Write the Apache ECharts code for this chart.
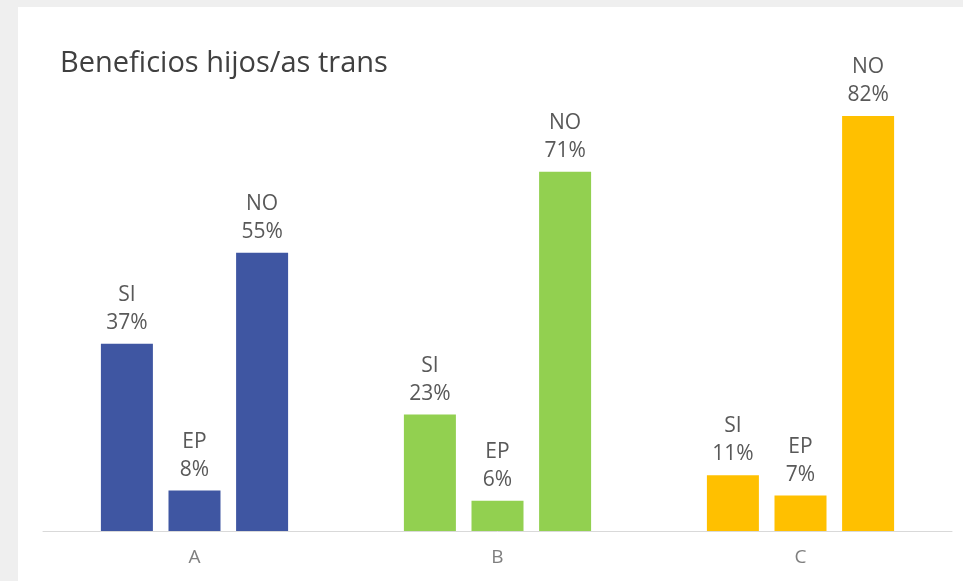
<!DOCTYPE html>
<html>
<head>
<meta charset="utf-8">
<script src="https://cdn.jsdelivr.net/npm/echarts@6/dist/echarts.min.js"></script>
<style>
  html, body { margin: 0; padding: 0; background: #efefef; }
  #chart { position: absolute; left: 18px; top: 7px; width: 945px; height: 574px; background: #ffffff; }
</style>
</head>
<body>
<div id="chart"></div>
<script>
// 데이터
const categories = ['A', 'B', 'C'];
const seriesNames = ['SI', 'EP', 'NO'];
const siValues = [37, 23, 11];
const epValues = [8, 6, 7];
const noValues = [55, 71, 82];
const groupColors = ['#3F56A2', '#92D050', '#FFC000'];

const chart = echarts.init(document.getElementById('chart'));

function makeSeries(name, values) {
    return {
        name: name,
        type: 'bar',
        data: values,
        barWidth: 52,
        barGap: '30%',
        itemStyle: {
            color: function (p) { return groupColors[p.dataIndex]; }
        },
        label: {
            show: true,
            position: 'top',
            distance: 7,
            formatter: function (p) { return p.seriesName + '\n' + p.value + '%'; },
            color: '#595959',
            fontFamily: 'Open Sans',
            fontSize: 21,
            lineHeight: 28
        }
    };
}

chart.setOption({
    animation: false,
    title: {
        text: 'Beneficios hijos/as trans',
        left: 37,
        top: 37,
        textStyle: { fontFamily: 'Open Sans', fontSize: 29, fontWeight: 'normal', color: '#404040' }
    },
    grid: { left: 25, right: 11, top: 18, bottom: 50 },
    xAxis: {
        type: 'category',
        data: categories,
        axisLine: { lineStyle: { color: '#d9d9d9', width: 1 } },
        axisTick: { show: false },
        axisLabel: { color: '#7f7f7f', fontFamily: 'Open Sans', fontSize: 19, margin: 17 }
    },
    yAxis: {
        type: 'value',
        min: 0,
        max: 100,
        show: false
    },
    series: [
        makeSeries(seriesNames[0], siValues),
        makeSeries(seriesNames[1], epValues),
        makeSeries(seriesNames[2], noValues)
    ]
});
</script>
</body>
</html>
